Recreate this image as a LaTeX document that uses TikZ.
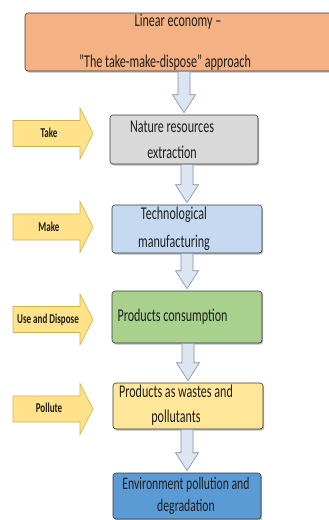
\documentclass[tikz,border=0pt]{standalone}
\usepackage{fontspec}
\setmainfont{Carlito}[FakeStretch=0.67]
\usetikzlibrary{calc,shadows}

\definecolor{ink}{HTML}{1E1E1E}
\definecolor{boxline}{HTML}{3A3A3A}
\definecolor{linearfill}{HTML}{F4B183}
\definecolor{takefill}{HTML}{D9D9D9}
\definecolor{makefill}{HTML}{C5D9F1}
\definecolor{usefill}{HTML}{A9D18E}
\definecolor{wastefill}{HTML}{FFE699}
\definecolor{envfill}{HTML}{5B9BD5}
\definecolor{flowfill}{HTML}{DCE6F2}
\definecolor{flowline}{HTML}{7F8FA6}
\definecolor{cuefill}{HTML}{FFE28A}
\definecolor{cueline}{HTML}{D2B050}

% block arrow from the bottom of one stage to the top of the next
\newcommand\flowarrow[2]{%
  \draw[flow] let \p1=(#1.south), \p2=(#2.north) in
    (\x2-6pt,\y1) -- (\x2+6pt,\y1) -- (\x2+6pt,\y2+20pt) -- (\x2+11.5pt,\y2+20pt)
    -- (\x2,\y2+2pt) -- (\x2-11.5pt,\y2+20pt) -- (\x2-6pt,\y2+20pt) -- cycle;}

% yellow side arrow centred at height #1
\newcommand\cuearrow[1]{%
  \draw[cue] (13,#1-13) -- (80,#1-13) -- (80,#1-25.5) -- (93,#1)
    -- (80,#1+25.5) -- (80,#1+13) -- (13,#1+13) -- cycle;}

\begin{document}
\begin{tikzpicture}[x=1pt,y=-1pt,
  stage/.style={draw=boxline, line width=0.6pt, rounded corners=3pt, inner sep=0pt,
    drop shadow={shadow xshift=1.2pt, shadow yshift=-1.6pt, opacity=0.55}},
  caption/.style={align=center, text=ink, inner sep=0pt},
  flow/.style={draw=flowline, fill=flowfill, line width=0.6pt},
  cue/.style={draw=cueline, fill=cuefill, line width=0.6pt},
  cuetext/.style={font=\bfseries\fontsize{13.5}{15}\selectfont, text=ink, inner sep=0pt}]

\useasboundingbox (0,0) rectangle (329,520);

% stages of the linear economy
\node[stage, fill=linearfill, minimum width=315, minimum height=58] (linear) at (182.5,42) {};
\node[stage, fill=takefill, minimum width=148, minimum height=49] (extract) at (184,139.5) {};
\node[stage, fill=makefill, minimum width=150, minimum height=48] (manuf) at (187,229) {};
\node[stage, fill=usefill, minimum width=150, minimum height=52] (consume) at (187,317) {};
\node[stage, fill=wastefill, minimum width=150, minimum height=46] (waste) at (188,406) {};
\node[stage, fill=envfill, minimum width=148, minimum height=46] (env) at (187,496) {};

% captions
\node[caption, font=\fontsize{18}{20}\selectfont] (lineartitle) at (178,22) {Linear economy –};
\node[caption, font=\fontsize{18}{20}\selectfont] (linearsub) at (165,63) {\symbol{34}The take-make-dispose\symbol{34} approach};
\node[caption, font=\fontsize{18}{26}\selectfont] (extracttext) at (172,140) {Nature resources\\extraction};
\node[caption, font=\fontsize{18}{28}\selectfont] (manuftext) at (174,229) {Technological\\manufacturing};
\node[caption, font=\fontsize{18}{20}\selectfont] (consumetext) at (172.5,317) {Products consumption};
\node[caption, font=\fontsize{18}{25}\selectfont] (wastetext) at (176,405.5) {Products as wastes and\\pollutants};
\node[caption, font=\fontsize{17.5}{22}\selectfont] (envtext) at (186,496) {Environment pollution and\\degradation};

% flow between stages
\flowarrow{linear}{extract}
\flowarrow{extract}{manuf}
\flowarrow{manuf}{consume}
\flowarrow{consume}{waste}
\flowarrow{waste}{env}

% side actions
\cuearrow{133.5}
\cuearrow{227}
\cuearrow{319.5}
\cuearrow{409}
\node[cuetext] (take) at (49,133) {Take};
\node[cuetext] (make) at (49,227) {Make};
\node[cuetext] (usedispose) at (48,320) {Use and Dispose};
\node[cuetext] (pollute) at (49,408) {Pollute};
\end{tikzpicture}
\end{document}
